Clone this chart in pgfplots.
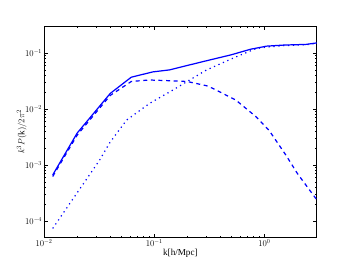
\documentclass[border=0pt]{standalone}
\usepackage{fontspec}
\setmainfont{Liberation Serif}
\usepackage{pgfplots}
\pgfplotsset{compat=1.18}
\begin{document}
\begin{tikzpicture}
\begin{loglogaxis}[
  scale only axis,
  width=6.2in, height=4.8in,
  xmin=0.01, xmax=3, ymin=5e-5, ymax=0.3,
  tick align=inside,
  major tick length=6pt, minor tick length=3pt,
  every tick/.style={black, line width=0.6pt},
  axis line style={line width=1pt},
  xtick={0.01,0.1,1}, ytick={1e-4,1e-3,1e-2,1e-1},
  tick label style={font=\fontsize{14}{16}\selectfont},
  label style={font=\fontsize{15}{18}\selectfont},
  xlabel={k[h/Mpc]},
  ylabel={$k^3P(\mathrm{k})/2\pi^2$},
  xlabel style={yshift=3pt},
  ylabel style={yshift=-9pt},
]
\addplot[blue, line width=2pt] coordinates {
(0.012,6.6e-4) (0.02,3.7e-3) (0.04,0.019) (0.062,0.037) (0.097,0.046)
(0.138,0.050) (0.2,0.060) (0.3,0.073) (0.5,0.093) (0.75,0.117)
(1.05,0.133) (1.5,0.139) (2.4,0.143) (3.0,0.152)};
\addplot[blue, line width=2pt, dash pattern=on 6.5pt off 6pt] coordinates {
(0.012,6.2e-4) (0.02,3.4e-3) (0.04,0.0175) (0.062,0.031) (0.09,0.033)
(0.14,0.032) (0.2,0.031) (0.3,0.026) (0.34,0.0234) (0.55,0.0145)
(0.84,0.0073) (1.11,0.0041) (1.57,0.0015) (2.0,7.0e-4) (3.0,2.37e-4)};
\addplot[blue, line width=2pt, dash pattern=on 2pt off 6pt] coordinates {
(0.012,7.3e-5) (0.0321,1.23e-3) (0.0396,2.5e-3) (0.0561,6.3e-3)
(0.091,0.0126) (0.148,0.0218) (0.21,0.033) (0.30,0.050) (0.55,0.085)
(0.84,0.12) (1.05,0.128) (1.5,0.136) (2.4,0.141) (3.0,0.150)};
\end{loglogaxis}
\path (current axis.south west) ++(-1in,-0.6in) rectangle ++(8in,6in);
\end{tikzpicture}
\end{document}
